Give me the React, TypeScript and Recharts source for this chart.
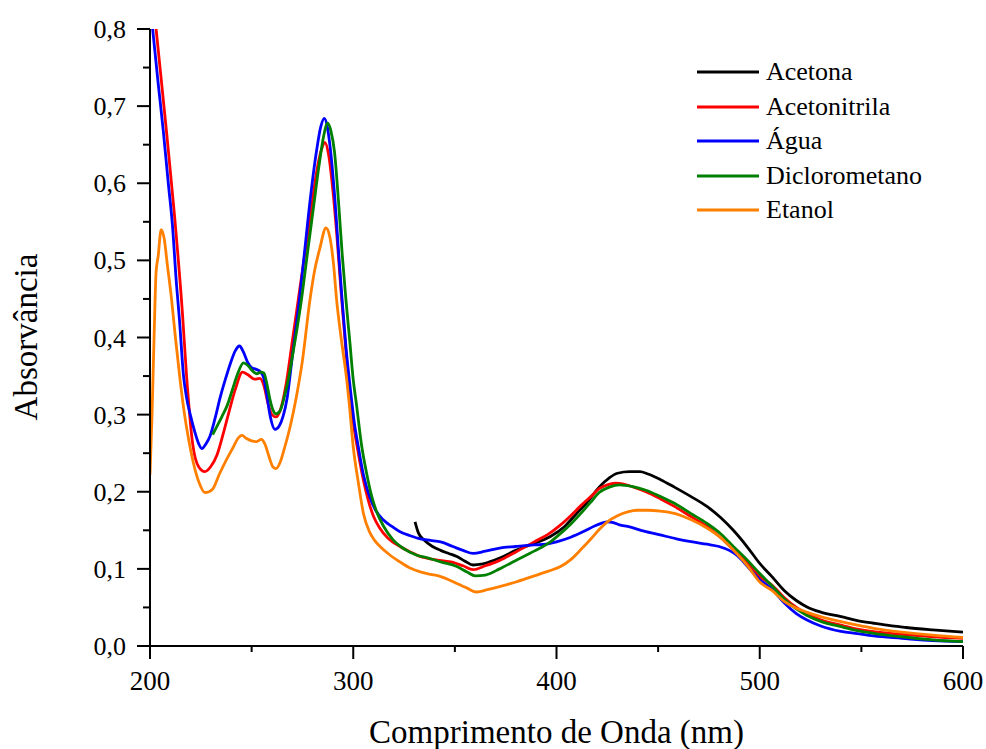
import React from "react";
import { LineChart, Line, XAxis, YAxis, Legend } from "recharts";

// Espectros UV-Vis em diferentes solventes: [comprimento de onda (nm), absorvância]
type Pt = [number, number];

const acetona: Pt[] = [
  [330.4, 0.161], [332, 0.147], [335, 0.137], [339, 0.129], [343, 0.124], [347, 0.12], [351, 0.116],
  [355, 0.11], [359, 0.105], [363, 0.106], [367, 0.109], [373, 0.115], [380, 0.124], [388, 0.132],
  [397, 0.142], [404, 0.155], [410, 0.172], [415, 0.186], [421, 0.206], [426, 0.218], [430, 0.224],
  [436, 0.226], [441, 0.226], [445, 0.223], [451, 0.216], [458, 0.206], [466, 0.194], [474, 0.181],
  [481, 0.166], [487, 0.15], [494, 0.128], [500, 0.107], [506, 0.09], [512, 0.072], [518, 0.059],
  [523, 0.051], [530, 0.044], [540, 0.038], [548, 0.033], [556, 0.0295], [565, 0.026], [572, 0.024],
  [585, 0.021], [600, 0.018],
];

const acetonitrila: Pt[] = [
  [200, 0.88], [203, 0.8], [208, 0.67], [212, 0.56], [216, 0.43], [218, 0.35], [221, 0.262],
  [224, 0.232], [227, 0.226], [230, 0.233], [233, 0.248], [236, 0.275], [239, 0.305], [242, 0.333],
  [245.5, 0.355], [248, 0.352], [251.5, 0.346], [254, 0.347], [256, 0.338], [258, 0.315], [260, 0.3],
  [262, 0.297], [264, 0.305], [267, 0.34], [270, 0.395], [273, 0.45], [276, 0.505], [279, 0.56],
  [282, 0.615], [284.5, 0.645], [286, 0.653], [288, 0.635], [290, 0.59], [292, 0.53], [294, 0.46],
  [296, 0.395], [298, 0.335], [300, 0.29], [302.5, 0.25], [305, 0.215], [307.5, 0.188], [310, 0.168],
  [313, 0.153], [317, 0.14], [323, 0.129], [328, 0.122], [333, 0.116], [340, 0.112], [348, 0.109],
  [354, 0.104], [359, 0.099], [365, 0.104], [372, 0.111], [380, 0.122], [389, 0.135], [396, 0.145],
  [402, 0.157], [407, 0.169], [412, 0.182], [417, 0.194], [421, 0.204], [425, 0.209], [429, 0.211],
  [433, 0.21], [438, 0.206], [444, 0.2], [451, 0.191], [458, 0.181], [466, 0.168], [474, 0.155],
  [481, 0.14], [487, 0.125], [494, 0.107], [500, 0.09], [506, 0.079], [512, 0.063], [518, 0.05],
  [523, 0.042], [530, 0.034], [540, 0.027], [548, 0.022], [556, 0.0185], [570, 0.015], [585, 0.012],
  [600, 0.01],
];

const agua: Pt[] = [
  [200, 0.835], [201.3, 0.8], [204, 0.73], [206.5, 0.669], [209, 0.6], [211, 0.547], [213, 0.47],
  [214.5, 0.423], [216.5, 0.35], [218, 0.322], [220, 0.298], [222, 0.278], [224, 0.262],
  [225.5, 0.256], [227.5, 0.262], [229.5, 0.272], [232, 0.295], [234.5, 0.322], [237, 0.345],
  [239.5, 0.366], [242, 0.383], [244, 0.389], [246, 0.381], [248, 0.368], [250, 0.361], [252, 0.359],
  [254.5, 0.355], [256, 0.347], [257.5, 0.325], [259, 0.3], [261.5, 0.281], [263.5, 0.285],
  [265.5, 0.298], [267.5, 0.322], [270, 0.375], [273.5, 0.449], [276, 0.51], [279, 0.583],
  [282, 0.643], [284, 0.673], [285.8, 0.684], [287.3, 0.672], [288.8, 0.643], [291, 0.578],
  [292.8, 0.51], [294.5, 0.449], [296.5, 0.385], [298.5, 0.335], [300.5, 0.29], [302.5, 0.258],
  [305, 0.222], [308, 0.194], [311, 0.176], [315, 0.163], [319, 0.155], [323, 0.148], [328, 0.143],
  [333, 0.139], [338, 0.137], [343, 0.135], [349, 0.129], [354, 0.124], [359, 0.12], [365, 0.123],
  [372, 0.127], [380, 0.129], [389, 0.131], [395, 0.132], [400, 0.135], [407, 0.141], [413, 0.148],
  [419, 0.156], [422, 0.159], [425, 0.161], [428, 0.16], [431, 0.157], [435, 0.155], [443, 0.149],
  [451, 0.144], [459, 0.139], [467, 0.135], [474, 0.132], [480, 0.129], [485, 0.124], [489, 0.117],
  [494, 0.103], [500, 0.086], [506, 0.074], [512, 0.056], [518, 0.042], [523, 0.034], [530, 0.026],
  [540, 0.019], [548, 0.016], [556, 0.013], [570, 0.01], [585, 0.007], [600, 0.0056],
];

const diclorometano: Pt[] = [
  [230.8, 0.274], [233, 0.285], [235.5, 0.298], [238, 0.312], [240.5, 0.332], [243, 0.352],
  [246, 0.367], [248, 0.364], [250, 0.358], [252.5, 0.353], [254.5, 0.355], [256, 0.354],
  [257.5, 0.34], [259, 0.32], [260.5, 0.306], [262, 0.301], [264, 0.305], [266, 0.322], [268, 0.345],
  [271, 0.39], [274.5, 0.449], [277.5, 0.51], [280.5, 0.57], [283, 0.62], [285.5, 0.662],
  [287.4, 0.678], [289, 0.668], [290.8, 0.64], [292.7, 0.578], [294.5, 0.51], [296.4, 0.449],
  [298.3, 0.395], [300, 0.345], [301.5, 0.315], [304, 0.262], [306.5, 0.225], [309, 0.195],
  [311.5, 0.174], [315, 0.155], [319.5, 0.138], [325, 0.126], [331, 0.118], [337, 0.114],
  [343, 0.109], [351, 0.103], [356, 0.096], [360, 0.091], [365, 0.092], [372, 0.1], [380, 0.111],
  [389, 0.123], [397, 0.135], [402, 0.146], [407, 0.158], [412, 0.172], [417, 0.187], [421, 0.199],
  [426, 0.206], [431, 0.209], [437, 0.207], [444, 0.202], [451, 0.194], [458, 0.185], [466, 0.172],
  [474, 0.159], [481, 0.145], [487, 0.129], [494, 0.111], [500, 0.094], [506, 0.078], [512, 0.061],
  [518, 0.048], [523, 0.04], [530, 0.032], [540, 0.025], [548, 0.02], [556, 0.0165], [570, 0.012],
  [585, 0.008], [600, 0.0056],
];

const etanol: Pt[] = [
  [200, 0.222], [201, 0.3], [202, 0.4], [203, 0.485], [204, 0.505], [205.5, 0.54], [207, 0.528],
  [208.5, 0.495], [210.5, 0.452], [212.5, 0.4], [214.8, 0.345], [217, 0.3], [219, 0.268],
  [221.3, 0.238], [224, 0.213], [227, 0.199], [229, 0.2], [231, 0.204], [234, 0.222], [237.5, 0.241],
  [241, 0.258], [243, 0.268], [245.3, 0.273], [247.5, 0.269], [250, 0.266], [252.5, 0.265],
  [254.8, 0.268], [256.5, 0.262], [258.5, 0.246], [260.5, 0.232], [262, 0.23], [264, 0.238],
  [266, 0.255], [269, 0.285], [272, 0.323], [275, 0.37], [278.7, 0.449], [281, 0.487], [283.5, 0.515],
  [286.6, 0.542], [288.5, 0.53], [290.3, 0.495], [291.8, 0.449], [294, 0.4], [296.8, 0.345],
  [298, 0.315], [300, 0.258], [302.5, 0.212], [305, 0.172], [308, 0.148], [310.5, 0.137],
  [313.2, 0.129], [318, 0.118], [323, 0.109], [328, 0.101], [333, 0.096], [338, 0.093], [343, 0.09],
  [347, 0.086], [351, 0.081], [356, 0.075], [360.7, 0.07], [366, 0.073], [372, 0.077], [380, 0.083],
  [388, 0.09], [396, 0.097], [402, 0.103], [407, 0.112], [412, 0.125], [417, 0.139], [421, 0.151],
  [425, 0.161], [430, 0.169], [435, 0.174], [440, 0.176], [445, 0.176], [451, 0.175], [458, 0.172],
  [466, 0.164], [474, 0.153], [481, 0.14], [487, 0.1245], [494, 0.104], [500, 0.083], [506, 0.072],
  [512, 0.058], [518, 0.049], [523, 0.044], [530, 0.038], [540, 0.0315], [548, 0.027], [556, 0.023],
  [570, 0.018], [585, 0.014], [600, 0.011],
];

const xTicks = [200, 250, 300, 350, 400, 450, 500, 550, 600];
const yTicks = [0, 0.05, 0.1, 0.15, 0.2, 0.25, 0.3, 0.35, 0.4, 0.45, 0.5, 0.55, 0.6, 0.65, 0.7, 0.75, 0.8];

const SERIES = [
  { name: "Acetona", color: "#000000", pts: acetona },
  { name: "Acetonitrila", color: "#ff0000", pts: acetonitrila },
  { name: "Água", color: "#0000ff", pts: agua },
  { name: "Diclorometano", color: "#008000", pts: diclorometano },
  { name: "Etanol", color: "#ff8000", pts: etanol },
];

const FONT = '"Liberation Serif", "Times New Roman", serif';
const toRows = (pts: Pt[]) => pts.map(([nm, a]) => ({ nm, a }));
const fmtY = (v: number) => v.toFixed(1).replace(".", ",");

// marcas principais com rótulo, secundárias curtas e sem rótulo
function YTick({ x, y, payload }: any) {
  const v = payload.value as number;
  const major = Math.abs(v * 10 - Math.round(v * 10)) < 1e-6;
  return (
    <g>
      <line x1={x - (major ? 13 : 7)} x2={x} y1={y} y2={y} stroke="#000" strokeWidth={2} />
      {major && (
        <text x={x - 24} y={y + 9} textAnchor="end" fontSize={26} fontFamily={FONT} fill="#000">
          {fmtY(v)}
        </text>
      )}
    </g>
  );
}

function XTick({ x, y, payload }: any) {
  const v = payload.value as number;
  const major = v % 100 === 0;
  return (
    <g>
      <line x1={x} x2={x} y1={y} y2={y + (major ? 13 : 6)} stroke="#000" strokeWidth={2} />
      {major && (
        <text x={x} y={y + 44} textAnchor="middle" fontSize={27} fontFamily={FONT} fill="#000">
          {v}
        </text>
      )}
    </g>
  );
}

function LegendBox() {
  return (
    <div style={{ fontFamily: FONT, fontSize: 26, color: "#000" }}>
      {SERIES.map((s) => (
        <div key={s.name} style={{ display: "flex", alignItems: "center", height: 34.5 }}>
          <svg width={62} height={6} style={{ marginRight: 7 }}>
            <line x1={0} x2={62} y1={3} y2={3} stroke={s.color} strokeWidth={3} />
          </svg>
          <span style={{ lineHeight: 1 }}>{s.name}</span>
        </div>
      ))}
    </div>
  );
}

export default function App() {
  return (
    <div style={{ position: "absolute", left: 0, top: 0, background: "#fff" }}>
      <LineChart width={986} height={749} margin={{ top: 29, right: 23, left: 20, bottom: 23 }}>
        <XAxis
          type="number"
          dataKey="nm"
          domain={[200, 600]}
          ticks={xTicks}
          interval={0}
          allowDataOverflow
          height={80}
          tickSize={0}
          tickMargin={0}
          tickLine={false}
          axisLine={{ stroke: "#000", strokeWidth: 2 }}
          tick={<XTick />}
          label={() => (
            <text x={556.5} y={743} textAnchor="middle" fontSize={33} fontFamily={FONT} fill="#000">
              Comprimento de Onda (nm)
            </text>
          )}
        />
        <YAxis
          type="number"
          domain={[0, 0.8]}
          ticks={yTicks}
          interval={0}
          allowDataOverflow
          width={130}
          tickSize={0}
          tickMargin={0}
          tickLine={false}
          axisLine={{ stroke: "#000", strokeWidth: 2 }}
          tick={<YTick />}
          label={() => (
            <text
              x={37}
              y={337}
              transform="rotate(-90, 37, 337)"
              textAnchor="middle"
              fontSize={33}
              fontFamily={FONT}
              fill="#000"
            >
              Absorvância
            </text>
          )}
        />
        <Legend
          layout="vertical"
          align="center"
          verticalAlign="middle"
          wrapperStyle={{ left: 697, top: 55, width: 270 }}
          content={() => <LegendBox />}
        />
        {SERIES.map((s) => (
          <Line
            key={s.name}
            data={toRows(s.pts)}
            dataKey="a"
            name={s.name}
            type="monotone"
            stroke={s.color}
            strokeWidth={2.8}
            dot={false}
            activeDot={false}
            isAnimationActive={false}
          />
        ))}
      </LineChart>
    </div>
  );
}
